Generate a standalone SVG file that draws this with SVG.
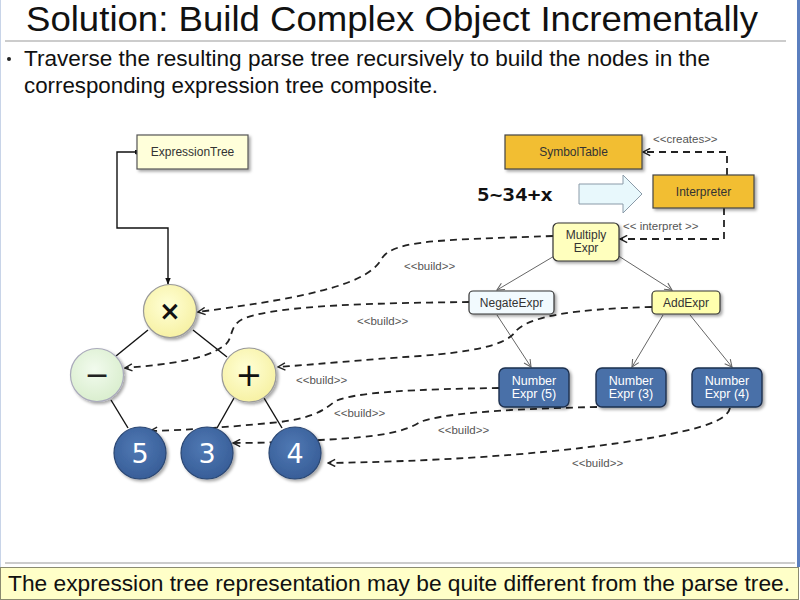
<svg xmlns="http://www.w3.org/2000/svg" width="800" height="600" viewBox="0 0 800 600">
  <defs>
    <style>
      .title { font-family: "Liberation Sans", Arial, sans-serif; font-size: 35px; fill: #111; }
      .body { font-family: "Liberation Sans", Arial, sans-serif; font-size: 22px; fill: #111; }
      .lbl { font-family: "Liberation Sans", Arial, sans-serif; font-size: 11.5px; fill: #555; }
      .box { font-family: "Liberation Sans", Arial, sans-serif; font-size: 12px; fill: #333; text-anchor: middle; }
      .boxw { font-family: "Liberation Sans", Arial, sans-serif; font-size: 12.5px; fill: #fff; text-anchor: middle; }
      .sym { font-family: "DejaVu Sans", sans-serif; text-anchor: middle; }
      .build { fill: none; stroke: #222; stroke-width: 1.8; stroke-dasharray: 7 5; marker-end: url(#open); }
      .tree { fill: none; stroke: #666; stroke-width: 1; marker-end: url(#openThin); }
      .edge { fill: none; stroke: #111; stroke-width: 1.4; }
      .shadow { filter: url(#drop); }
    </style>
    <filter id="drop" x="-30%" y="-30%" width="160%" height="160%">
      <feDropShadow dx="2" dy="2" stdDeviation="1.5" flood-color="#000" flood-opacity="0.35"/>
    </filter>
    <radialGradient id="yel" cx="45%" cy="40%" r="65%">
      <stop offset="0" stop-color="#FFFFD6"/>
      <stop offset="1" stop-color="#F6F0A0"/>
    </radialGradient>
    <radialGradient id="grn" cx="45%" cy="40%" r="65%">
      <stop offset="0" stop-color="#F2FBEE"/>
      <stop offset="1" stop-color="#D8EDCC"/>
    </radialGradient>
    <radialGradient id="blu" cx="45%" cy="40%" r="65%">
      <stop offset="0" stop-color="#5079B4"/>
      <stop offset="1" stop-color="#365C96"/>
    </radialGradient>
    <marker id="open" viewBox="0 0 10 10" refX="9" refY="5" markerWidth="9" markerHeight="9" markerUnits="userSpaceOnUse" orient="auto">
      <path d="M1,1 L9,5 L1,9" fill="none" stroke="#222" stroke-width="1.6"/>
    </marker>
    <marker id="openThin" viewBox="0 0 10 10" refX="9" refY="5" markerWidth="9" markerHeight="9" markerUnits="userSpaceOnUse" orient="auto">
      <path d="M1,1 L9,5 L1,9" fill="none" stroke="#666" stroke-width="1.2"/>
    </marker>
    <marker id="solid" viewBox="0 0 10 10" refX="9" refY="5" markerWidth="7" markerHeight="7" markerUnits="userSpaceOnUse" orient="auto">
      <path d="M0,1 L10,5 L0,9 Z" fill="#111"/>
    </marker>
    <marker id="dot" viewBox="0 0 10 10" refX="5" refY="5" markerWidth="5" markerHeight="5" markerUnits="userSpaceOnUse">
      <circle cx="5" cy="5" r="5" fill="#111"/>
    </marker>
  </defs>

  <rect x="0" y="0" width="800" height="600" fill="#fff"/>
  <line x1="0.5" y1="0" x2="0.5" y2="600" stroke="#C8D4E8" stroke-width="1"/>
  <line x1="798.5" y1="0" x2="798.5" y2="567" stroke="#5B7FBF" stroke-width="3"/>

  <!-- heading and bullet -->
  <text class="title" x="26" y="31" textLength="732" lengthAdjust="spacingAndGlyphs">Solution: Build Complex Object Incrementally</text>
  <line x1="5" y1="41" x2="786" y2="41" stroke="#999" stroke-width="1.2"/>
  <circle cx="9" cy="59" r="2" fill="#222"/>
  <text class="body" x="24" y="66" textLength="686" lengthAdjust="spacingAndGlyphs">Traverse the resulting parse tree recursively to build the nodes in the</text>
  <text class="body" x="24" y="93" textLength="414" lengthAdjust="spacingAndGlyphs">corresponding expression tree composite.</text>

  <!-- connectors -->
  <g id="connectors">
    <!-- expression tree root link -->
    <path class="edge" d="M137,152 L117,152 L117,228 L168,228 L168,284" marker-start="url(#dot)" marker-end="url(#solid)"/>
    <!-- expression tree edges -->
    <line class="edge" x1="148" y1="330" x2="116" y2="356"/>
    <line class="edge" x1="193" y1="330" x2="227" y2="357"/>
    <line class="edge" x1="111" y1="400" x2="128" y2="428"/>
    <line class="edge" x1="234" y1="398" x2="217" y2="428"/>
    <line class="edge" x1="264" y1="398" x2="282" y2="428"/>

    <!-- parse tree edges -->
    <line class="tree" x1="556" y1="255" x2="497" y2="290"/>
    <line class="tree" x1="617" y1="255" x2="672" y2="290"/>
    <line class="tree" x1="497" y1="315" x2="531" y2="367"/>
    <line class="tree" x1="663" y1="315" x2="632" y2="367"/>
    <line class="tree" x1="690" y1="315" x2="732" y2="367"/>

    <!-- interpreter relations -->
    <path class="build" d="M727,175 L727,152 L643,152"/>
    <path class="build" d="M724,208 L724,239 L620,239"/>

    <!-- build relations -->
    <path class="build" d="M553,236 C440,240 395,240 382,258 C370,282 320,296 198,312"/>
    <path class="build" d="M469,302 C380,303 280,305 245,318 C228,325 234,338 225,345 C205,360 170,364 125,368"/>
    <path class="build" d="M652,307 C575,309 528,316 515,332 C505,346 470,352 420,356 C360,360 320,364 278,367"/>
    <path class="build" d="M499,388 C420,389 350,392 334,402 C322,412 310,418 280,422 C230,427 190,430 150,431"/>
    <path class="build" d="M597,407 C500,409 440,414 420,422 C405,432 380,437 320,440 C290,442 260,443 233,443"/>
    <path class="build" d="M730,408 C727,420 705,428 650,438 C570,452 460,461 328,463"/>

    <text class="lbl" x="653" y="143">&lt;&lt;creates&gt;&gt;</text>
    <text class="lbl" x="623" y="230">&lt;&lt; interpret &gt;&gt;</text>
    <text class="lbl" x="404" y="270">&lt;&lt;build&gt;&gt;</text>
    <text class="lbl" x="357" y="325">&lt;&lt;build&gt;&gt;</text>
    <text class="lbl" x="296" y="384">&lt;&lt;build&gt;&gt;</text>
    <text class="lbl" x="334" y="417">&lt;&lt;build&gt;&gt;</text>
    <text class="lbl" x="438" y="434">&lt;&lt;build&gt;&gt;</text>
    <text class="lbl" x="572" y="467">&lt;&lt;build&gt;&gt;</text>
  </g>

  <!-- expression tree nodes -->
  <g id="expressionTree">
    <rect class="shadow" x="137" y="135" width="111" height="34" fill="#FFFFDA" stroke="#555" stroke-width="1.2"/>
    <text class="box" x="192.5" y="156">ExpressionTree</text>
  </g>
  <g id="multiplyNode">
    <circle class="shadow" cx="170" cy="311" r="26.5" fill="url(#yel)" stroke="#999" stroke-width="1.2"/>
    <text class="sym" x="170" y="320" font-size="26" font-weight="bold" fill="#111">×</text>
  </g>
  <g id="negateNode">
    <circle class="shadow" cx="97" cy="375" r="26.5" fill="url(#grn)" stroke="#AAB" stroke-width="1.2"/>
    <text class="sym" x="97" y="385" font-size="30" fill="#222">−</text>
  </g>
  <g id="addNode">
    <circle class="shadow" cx="249" cy="375" r="27" fill="url(#yel)" stroke="#999" stroke-width="1.2"/>
    <text class="sym" x="249" y="386" font-size="32" fill="#111">+</text>
  </g>
  <g id="num5">
    <circle class="shadow" cx="140" cy="453" r="26" fill="url(#blu)" stroke="#2A4672" stroke-width="1.2"/>
    <text class="sym" x="140" y="463" font-size="27" fill="#fff">5</text>
  </g>
  <g id="num3">
    <circle class="shadow" cx="207" cy="453" r="26" fill="url(#blu)" stroke="#2A4672" stroke-width="1.2"/>
    <text class="sym" x="207" y="463" font-size="27" fill="#fff">3</text>
  </g>
  <g id="num4">
    <circle class="shadow" cx="295" cy="453" r="26" fill="url(#blu)" stroke="#2A4672" stroke-width="1.2"/>
    <text class="sym" x="295" y="463" font-size="27" fill="#fff">4</text>
  </g>

  <!-- interpreter side -->
  <g id="symbolTable">
    <rect class="shadow" x="505" y="135" width="137" height="34" fill="#F2BE33" stroke="#444" stroke-width="1.2"/>
    <text class="box" x="573.5" y="156">SymbolTable</text>
  </g>
  <g id="inputArrow">
    <text x="477" y="201" font-family="'DejaVu Sans Mono', 'Liberation Mono', monospace" font-size="18" font-weight="bold" fill="#111" textLength="76" lengthAdjust="spacingAndGlyphs">5~34+x</text>
    <polygon points="579,184 623,184 623,175 642,194 623,213 623,204 579,204" fill="#E8F8FC" stroke="#8A9AA8" stroke-width="1"/>
  </g>
  <g id="interpreter">
    <rect class="shadow" x="653" y="175" width="101" height="33" fill="#F2BE33" stroke="#444" stroke-width="1.2"/>
    <text class="box" x="703.5" y="196">Interpreter</text>
  </g>
  <g id="multiplyExpr">
    <rect class="shadow" x="553" y="223" width="66" height="38" rx="5" fill="#FFFFBE" stroke="#333" stroke-width="1.2"/>
    <text class="box" x="586" y="239">Multiply</text>
    <text class="box" x="586" y="252">Expr</text>
  </g>
  <g id="negateExpr">
    <rect class="shadow" x="469" y="291" width="85" height="23" rx="4" fill="#F2FAFE" stroke="#333" stroke-width="1.2"/>
    <text class="box" x="511.5" y="306.5">NegateExpr</text>
  </g>
  <g id="addExpr">
    <rect class="shadow" x="652" y="291" width="68" height="23" rx="4" fill="#FFFFAE" stroke="#333" stroke-width="1.2"/>
    <text class="box" x="686" y="306.5">AddExpr</text>
  </g>
  <g id="numberExpr5">
    <rect class="shadow" x="499" y="368" width="70" height="39" rx="6" fill="#4870A8" stroke="#1E304F" stroke-width="1.4"/>
    <text class="boxw" x="534" y="385">Number</text>
    <text class="boxw" x="534" y="398">Expr (5)</text>
  </g>
  <g id="numberExpr3">
    <rect class="shadow" x="596" y="368" width="70" height="39" rx="6" fill="#4870A8" stroke="#1E304F" stroke-width="1.4"/>
    <text class="boxw" x="631" y="385">Number</text>
    <text class="boxw" x="631" y="398">Expr (3)</text>
  </g>
  <g id="numberExpr4">
    <rect class="shadow" x="692" y="368" width="70" height="39" rx="6" fill="#4870A8" stroke="#1E304F" stroke-width="1.4"/>
    <text class="boxw" x="727" y="385">Number</text>
    <text class="boxw" x="727" y="398">Expr (4)</text>
  </g>

  <!-- footer note -->
  <line x1="5" y1="563" x2="795" y2="563" stroke="#999" stroke-width="1.2"/>
  <rect x="0.5" y="567.5" width="798" height="32" fill="#FFFFC8" stroke="#8A8A70" stroke-width="1"/>
  <text class="body" x="8" y="591" textLength="782" lengthAdjust="spacingAndGlyphs">The expression tree representation may be quite different from the parse tree.</text>
</svg>
